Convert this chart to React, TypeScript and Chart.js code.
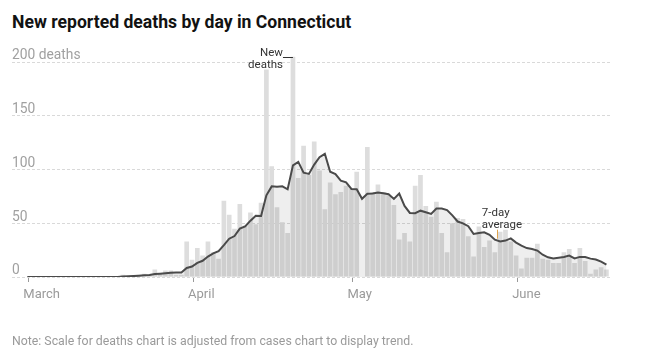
import React, { useEffect, useRef } from 'react';
import { Chart, registerables } from 'chart.js';

Chart.register(...registerables);

// Day index 0 = March 1
const monthLabels = ['March', 'April', 'May', 'June'];
const monthStartIndex = [0, 31, 61, 92];
const yTickValues = [0, 50, 100, 150, 200];

const dailyDeaths = [
  0, 0, 0, 0, 0, 0, 0, 0, 0, 0,
  0, 0, 0, 0, 0, 0, 0, 0, 2, 1,
  1, 2, 3, 2, 7, 3, 6, 6, 2, 2,
  33, 16, 27, 20, 33, 23, 17, 71, 58, 45,
  68, 48, 60, 49, 69, 193, 103, 65, 51, 41,
  205, 92, 122, 95, 126, 99, 63, 88, 77, 79,
  85, 82, 98, 0, 121, 79, 86, 79, 76, 67,
  35, 41, 33, 85, 95, 66, 56, 70, 41, 23,
  50, 55, 54, 38, 19, 47, 28, 34, 23, 42,
  44, 33, 20, 8, 18, 18, 31, 17, 16, 13,
  13, 23, 26, 13, 27, 15, 3, 7, 9, 7,
];

const sevenDayAverage = [
  0, 0, 0, 0, 0, 0, 0, 0, 0, 0,
  0, 0, 0, 0, 0, 0, 0, 0, 0.4, 0.6,
  0.9, 1.2, 1.6, 1.9, 2.7, 3.1, 3.5, 4, 4.1, 4.1,
  8.4, 9.7, 13.1, 15.1, 19, 22, 24.1, 29.6, 35.6, 38.1,
  45, 47.1, 52.4, 57, 56.7, 76, 84.3, 83.9, 84.3, 81.6,
  103.9, 107.1, 97, 95.9, 104.6, 111.4, 114.6, 97.9, 95.7, 89.6,
  88.1, 81.9, 81.7, 72.7, 77.4, 77.7, 78.7, 77.9, 77, 72.6,
  77.6, 66.1, 59.6, 59.4, 61.7, 60.3, 58.7, 63.7, 63.7, 62.3,
  57.3, 51.6, 49.9, 47.3, 40, 40.9, 41.6, 39.3, 34.7, 33,
  33.9, 35.9, 32, 29.1, 26.9, 26.1, 24.6, 20.7, 18.3, 17.3,
  18, 18.7, 19.9, 17.3, 18.7, 18.6, 17.1, 16.3, 14.3, 11.6,
];

const newDeathsNoteIndex = 50;
const averageNoteIndex = 88;

const annotationPlugin = {
  id: 'chartNotes',
  afterDatasetsDraw(chart: any) {
    const { ctx, scales } = chart;
    const x = scales.x;
    const y = scales.y;
    ctx.save();
    ctx.font = '11.5px Roboto';
    ctx.fillStyle = '#333333';
    ctx.textBaseline = 'alphabetic';

    // "New deaths" label pointing to the tallest bar
    const nx = x.getPixelForValue(newDeathsNoteIndex);
    const ny = y.getPixelForValue(dailyDeaths[newDeathsNoteIndex]);
    ctx.strokeStyle = '#333333';
    ctx.lineWidth = 1;
    ctx.beginPath();
    ctx.moveTo(nx - 10, Math.round(ny) + 0.5);
    ctx.lineTo(nx, Math.round(ny) + 0.5);
    ctx.stroke();
    ctx.textAlign = 'right';
    ctx.fillText('New', nx - 10, ny - 1);
    ctx.fillText('deaths', nx - 10, ny + 11.5);

    // "7-day average" label pointing to the line
    const ax = x.getPixelForValue(averageNoteIndex) + 2;
    const ay = y.getPixelForValue(sevenDayAverage[averageNoteIndex]);
    ctx.strokeStyle = '#dfa34c';
    ctx.beginPath();
    ctx.moveTo(Math.round(ax) + 0.5, ay - 10);
    ctx.lineTo(Math.round(ax) + 0.5, ay - 1);
    ctx.stroke();
    ctx.textAlign = 'left';
    ctx.fillText('7-day', ax - 15, ay - 23.5);
    ctx.fillText('average', ax - 15, ay - 12);
    ctx.restore();
  },
};

export default function App() {
  const ref = useRef<HTMLCanvasElement>(null);

  useEffect(() => {
    const canvas = ref.current;
    if (!canvas) return;
    const barPoints = dailyDeaths.map((v, i) => ({ x: i, y: v }));
    const avgPoints = sevenDayAverage.map((v, i) => ({ x: i, y: v }));

    const chart = new Chart(canvas, {
      type: 'bar',
      data: {
        datasets: [
          {
            type: 'line',
            data: avgPoints,
            borderColor: '#4a4a4a',
            borderWidth: 2,
            pointRadius: 0,
            fill: 'origin',
            backgroundColor: 'rgba(0,0,0,0.068)',
            tension: 0,
            order: 1,
          } as any,
          {
            type: 'bar',
            data: barPoints,
            backgroundColor: '#dddddd',
            barPercentage: 0.88,
            categoryPercentage: 1,
            order: 2,
          } as any,
        ],
      },
      options: {
        animation: false,
        responsive: false,
        maintainAspectRatio: false,
        events: [],
        layout: { padding: { left: 12, right: 53, top: 51.25, bottom: 56 } },
        plugins: {
          legend: { display: false },
          tooltip: { enabled: false },
          title: { display: false },
        },
        scales: {
          x: {
            type: 'linear',
            min: -2.88,
            max: 109.86,
            offset: false,
            afterBuildTicks: (s: any) => {
              s.ticks = monthStartIndex.map((v) => ({ value: v + 0.2 }));
            },
            afterFit: (s: any) => {
              s.height = 30;
            },
            grid: {
              drawOnChartArea: false,
              drawTicks: true,
              tickLength: 5,
              color: '#999999',
              offset: false,
            },
            border: { display: false },
            ticks: {
              autoSkip: false,
              maxRotation: 0,
              align: 'start',
              labelOffset: -5,
              padding: 5,
              color: '#9a9a9a',
              font: { family: 'Roboto', size: 13 },
              callback: (_v: any, i: number) => monthLabels[i],
            },
          } as any,
          y: {
            type: 'linear',
            min: 0,
            max: 210,
            afterBuildTicks: (s: any) => {
              s.ticks = yTickValues.map((v) => ({ value: v }));
            },
            afterFit: (s: any) => {
              s.width = 0;
            },
            grid: { color: '#d9d9d9', drawTicks: false },
            border: { display: false, dash: [3, 2] },
            ticks: {
              mirror: true,
              padding: 0,
              labelOffset: -6,
              color: '#a0a0a0',
              font: { family: 'Roboto', size: 13.8 },
              callback: (v: any) => (v === 200 ? '200 deaths' : String(v)),
            },
          } as any,
        },
      },
      plugins: [annotationPlugin],
    });

    return () => chart.destroy();
  }, []);

  return (
    <div
      style={{
        position: 'absolute',
        left: 0,
        top: 0,
        width: 664,
        height: 363,
        background: '#ffffff',
        overflow: 'hidden',
      }}
    >
      <div
        style={{
          position: 'absolute',
          left: 12,
          top: 13,
          font: 'bold 17.6px Roboto',
          lineHeight: '18px',
          color: '#121212',
          whiteSpace: 'nowrap',
        }}
      >
        New reported deaths by day in Connecticut
      </div>
      <canvas
        ref={ref}
        width={664}
        height={363}
        style={{ position: 'absolute', left: 0, top: 0, display: 'block' }}
      />
      <div
        style={{
          position: 'absolute',
          left: 12,
          top: 335,
          font: '12.3px Roboto',
          lineHeight: '12px',
          color: '#9a9a9a',
          whiteSpace: 'nowrap',
        }}
      >
        Note: Scale for deaths chart is adjusted from cases chart to display trend.
      </div>
    </div>
  );
}
